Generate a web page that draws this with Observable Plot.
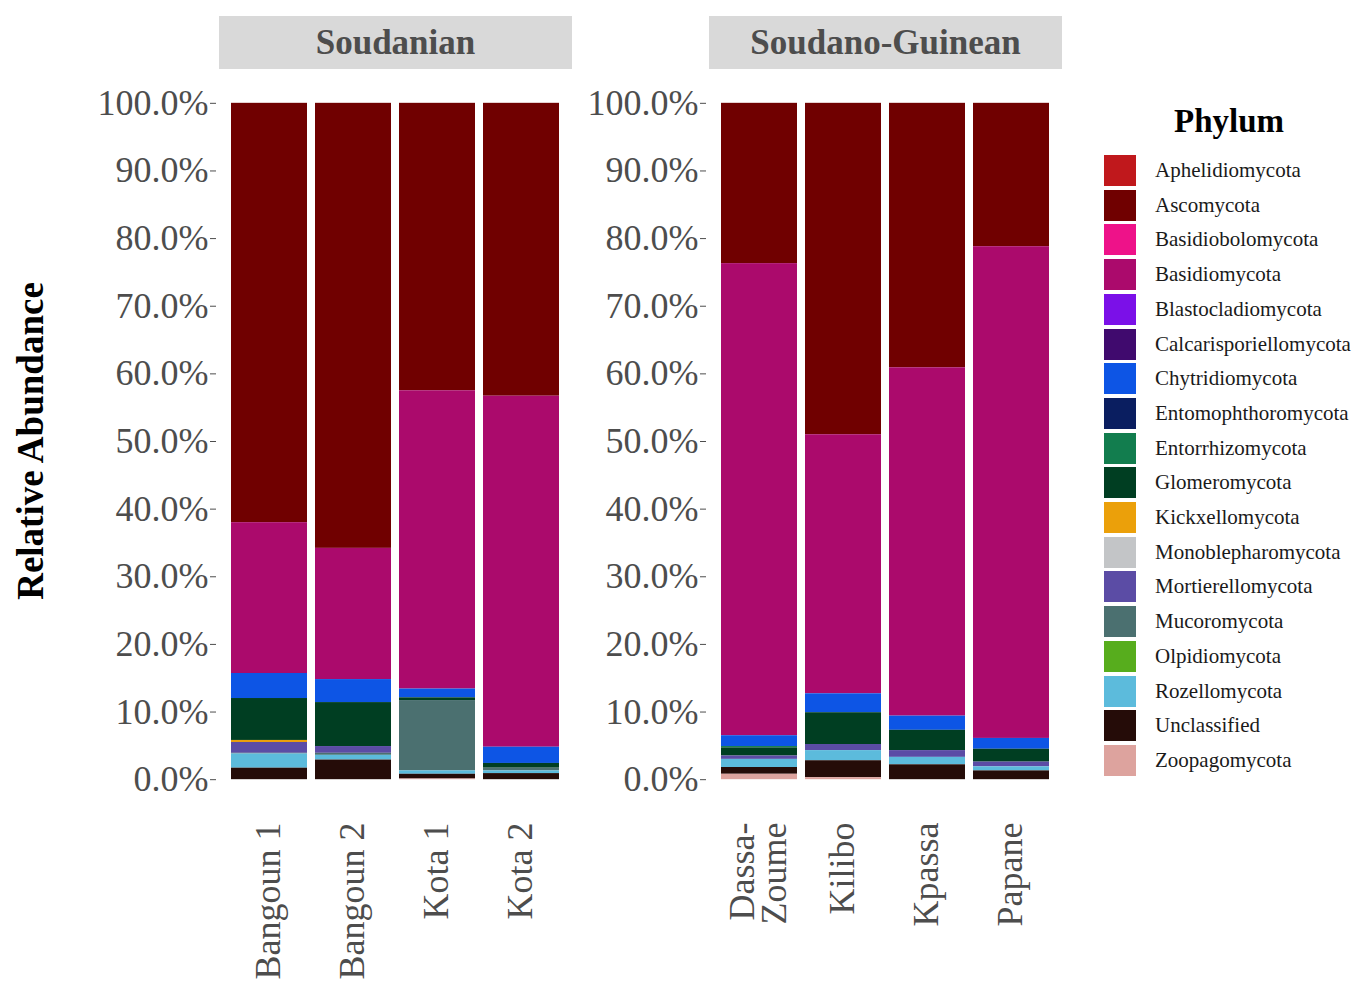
<!DOCTYPE html>
<html>
<head>
<meta charset="utf-8">
<script src="https://cdn.jsdelivr.net/npm/d3@7"></script>
<script src="https://cdn.jsdelivr.net/npm/@observablehq/plot@0.6"></script>
<style>
  html, body { margin: 0; padding: 0; background: #fff; }
  body { width: 1358px; height: 983px; position: relative; overflow: hidden; font-family: "Liberation Serif", "Times New Roman", serif; }
  .panel { position: absolute; top: 0; }
  .strip { position: absolute; top: 16px; height: 53px; width: 353px; background: #d9d9d9; color: #4d4d4d;
           font-weight: bold; font-size: 35px; line-height: 53px; text-align: center; }
  .ylab { position: absolute; left: 30px; top: 441px; transform: translate(-50%, -50%) rotate(-90deg);
          font-weight: bold; font-size: 37px; color: #000; white-space: nowrap; }
  .legend { position: absolute; left: 1104px; top: 100px; }
  .legend h3 { margin: 0; position: absolute; left: 0; width: 250px; top: 3px; text-align: center;
               font-size: 33px; font-weight: bold; color: #000; }
  .legend .row { position: absolute; left: 0; height: 31px; display: flex; align-items: center; white-space: nowrap; }
  .legend .sw { width: 32px; height: 31px; margin-right: 19px; }
  .legend .lab { font-size: 21px; color: #1a1a1a; }
</style>
</head>
<body>
<div id="left" class="panel" style="left:0px"></div>
<div id="right" class="panel" style="left:580px"></div>
<div class="strip" style="left:219px">Soudanian</div>
<div class="strip" style="left:709px">Soudano-Guinean</div>
<div class="ylab">Relative Abundance</div>
<div id="legend" class="legend"></div>
<script>
// Sampling sites and the climatic zone each belongs to
const sites = ["Bangoun 1", "Bangoun 2", "Kota 1", "Kota 2", "Dassa-\nZoume", "Kilibo", "Kpassa", "Papane"];
const zones = ["Soudanian", "Soudanian", "Soudanian", "Soudanian",
               "Soudano-Guinean", "Soudano-Guinean", "Soudano-Guinean", "Soudano-Guinean"];

// Legend order of the phyla (top of each stack first)
const phyla = ["Aphelidiomycota", "Ascomycota", "Basidiobolomycota", "Basidiomycota", "Blastocladiomycota",
  "Calcarisporiellomycota", "Chytridiomycota", "Entomophthoromycota", "Entorrhizomycota", "Glomeromycota",
  "Kickxellomycota", "Monoblepharomycota", "Mortierellomycota", "Mucoromycota", "Olpidiomycota",
  "Rozellomycota", "Unclassified", "Zoopagomycota"];
const phylumColors = ["#c0181c", "#700000", "#ee1289", "#ab0a6c", "#7b10e8",
  "#400a6e", "#0d55e5", "#0a1e60", "#127d4e", "#003e22",
  "#eba00a", "#c3c5c7", "#5b4ca5", "#4b7070", "#57ad1d",
  "#5cbbdc", "#250c08", "#dda39e"];

// Relative abundance (%) per site, same order as `sites`
const aphelidiomycota        = [0, 0, 0, 0, 0, 0, 0, 0];
const ascomycota             = [62.0, 65.8, 42.5, 43.3, 23.7, 49.0, 39.1, 21.2];
const basidiobolomycota      = [0, 0, 0, 0, 0, 0, 0, 0];
const basidiomycota          = [22.3, 19.4, 44.1, 51.9, 69.8, 38.3, 51.5, 72.7];
const blastocladiomycota     = [0, 0, 0, 0, 0, 0, 0, 0];
const calcarisporiellomycota = [0, 0, 0, 0, 0, 0, 0, 0];
const chytridiomycota        = [3.7, 3.4, 1.3, 2.4, 1.6, 2.8, 2.1, 1.6];
const entomophthoromycota    = [0, 0, 0, 0, 0, 0, 0, 0];
const entorrhizomycota       = [0, 0, 0, 0, 0.2, 0, 0, 0];
const glomeromycota          = [6.2, 6.5, 0.4, 0.7, 1.2, 4.7, 3.0, 1.9];
const kickxellomycota        = [0.3, 0, 0, 0, 0, 0, 0, 0];
const monoblepharomycota     = [0, 0, 0, 0, 0, 0, 0, 0];
const mortierellomycota      = [1.6, 1.0, 0, 0, 0.5, 0.9, 1.0, 0.7];
const mucoromycota           = [0.1, 0.3, 10.4, 0.4, 0, 0, 0, 0];
const olpidiomycota          = [0, 0, 0, 0, 0, 0, 0, 0];
const rozellomycota          = [2.1, 0.7, 0.5, 0.4, 1.2, 1.5, 1.1, 0.6];
const unclassified           = [1.7, 2.9, 0.7, 0.9, 1.0, 2.5, 2.2, 1.3];
const zoopagomycota          = [0, 0, 0.1, 0, 0.8, 0.3, 0, 0];

const series = [aphelidiomycota, ascomycota, basidiobolomycota, basidiomycota, blastocladiomycota,
  calcarisporiellomycota, chytridiomycota, entomophthoromycota, entorrhizomycota, glomeromycota,
  kickxellomycota, monoblepharomycota, mortierellomycota, mucoromycota, olpidiomycota,
  rozellomycota, unclassified, zoopagomycota];

// Long table: one row per (site, phylum)
const rows = [];
sites.forEach((site, i) => {
  phyla.forEach((phylum, j) => {
    const v = series[j][i];
    if (v > 0) rows.push({site, zone: zones[i], phylum, value: v / 100});
  });
});

const yTicks = d3.range(0, 11).map(d => d / 10);
const stackOrder = phyla.slice().reverse(); // Zoopagomycota at the bottom

function zonePanel(zone, marginLeft, width) {
  const data = rows.filter(d => d.zone === zone);
  const domain = sites.filter((s, i) => zones[i] === zone);
  return Plot.plot({
    width,
    height: 983,
    marginTop: 69,
    marginBottom: 983 - 813,
    marginLeft,
    marginRight: width - marginLeft - 352,
    style: {fontFamily: "Liberation Serif, Times New Roman, serif", background: "transparent", overflow: "visible"},
    x: {domain, paddingInner: 0.1, paddingOuter: 0.14, label: null},
    y: {domain: [-0.05, 1.05], label: null},
    color: {domain: phyla, range: phylumColors},
    marks: [
      Plot.barY(data, Plot.stackY({
        x: "site", y: "value", fill: "phylum", order: stackOrder
      })),
      Plot.axisY({
        ticks: yTicks, tickFormat: d3.format(".1%"), tickSize: 6, tickPadding: 2,
        fontSize: 36, color: "#4d4d4d", stroke: "#4d4d4d", label: null, dx: -3
      }),
      Plot.axisX({
        tickSize: 0, tickPadding: 9, tickRotate: -90, fontSize: 36, color: "#4d4d4d",
        label: null, lineHeight: 0.9
      })
    ]
  });
}

document.getElementById("left").appendChild(zonePanel("Soudanian", 219, 580));
document.getElementById("right").appendChild(zonePanel("Soudano-Guinean", 129, 490));

// Legend for the phylum fill
const legend = document.getElementById("legend");
const title = document.createElement("h3");
title.textContent = "Phylum";
legend.appendChild(title);
phyla.forEach((p, i) => {
  const row = document.createElement("div");
  row.className = "row";
  row.style.top = (55 + i * 34.7) + "px";
  const sw = document.createElement("div");
  sw.className = "sw";
  sw.style.background = phylumColors[i];
  const lab = document.createElement("span");
  lab.className = "lab";
  lab.textContent = p;
  row.appendChild(sw);
  row.appendChild(lab);
  legend.appendChild(row);
});
</script>
</body>
</html>
